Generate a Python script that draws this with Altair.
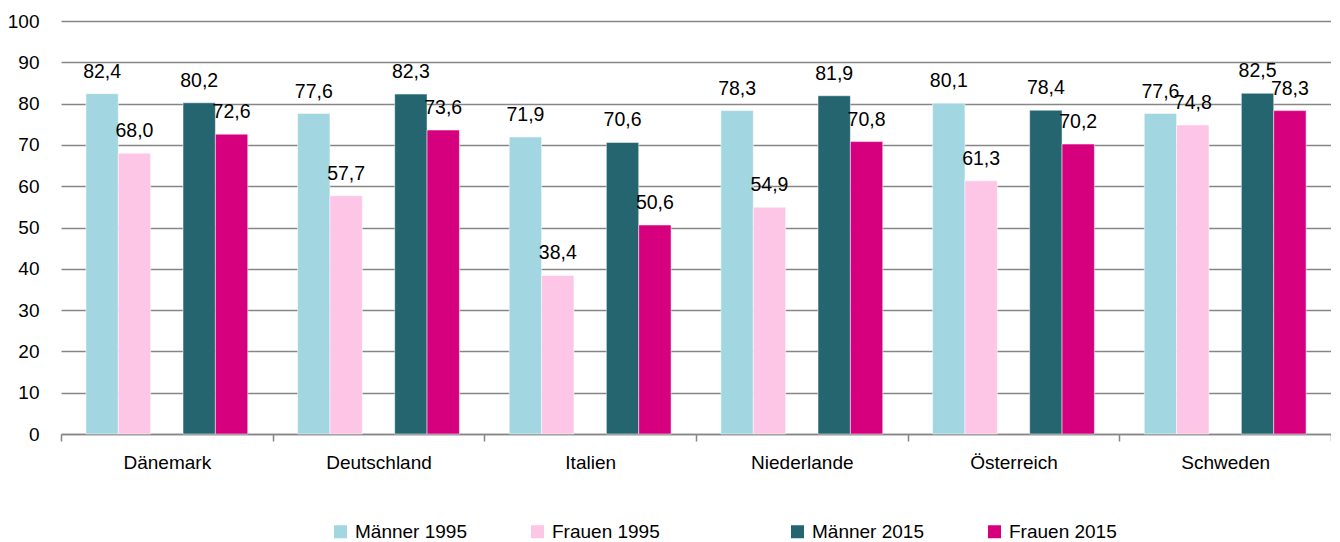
import altair as alt
import pandas as pd

countries = ["Dänemark", "Deutschland", "Italien", "Niederlande", "Österreich", "Schweden"]
slots = ["Männer 1995", "Frauen 1995", "", "Männer 2015", "Frauen 2015"]
series_1995 = ["Männer 1995", "Frauen 1995"]
series_2015 = ["Männer 2015", "Frauen 2015"]
colors_1995 = ["#a2d6e0", "#fdc5e6"]
colors_2015 = ["#24656f", "#d6007e"]

maenner_1995 = [82.4, 77.6, 71.9, 78.3, 80.1, 77.6]
frauen_1995 = [68.0, 57.7, 38.4, 54.9, 61.3, 74.8]
maenner_2015 = [80.2, 82.3, 70.6, 81.9, 78.4, 82.5]
frauen_2015 = [72.6, 73.6, 50.6, 70.8, 70.2, 78.3]

rows = []
for name, vals in [("Männer 1995", maenner_1995), ("Frauen 1995", frauen_1995),
                   ("Männer 2015", maenner_2015), ("Frauen 2015", frauen_2015)]:
    for c, v in zip(countries, vals):
        rows.append({"Land": c, "Serie": name, "Wert": v})
df = pd.DataFrame(rows)
df95 = df[df["Serie"].isin(series_1995)]
df15 = df[df["Serie"].isin(series_2015)]

FONT = "Liberation Sans, Arial, sans-serif"
FS = 19

x = alt.X("Land:N", sort=countries, title=None,
          scale=alt.Scale(paddingInner=0, paddingOuter=0),
          axis=alt.Axis(labelAngle=0, labelFontSize=FS, labelColor="#000000", labelPadding=12,
                        domainColor="#868686", domainWidth=1.5, tickColor="#868686",
                        tickWidth=1.5, tickSize=7, tickBand="extent", grid=False))
xo = alt.XOffset("Serie:N", scale=alt.Scale(domain=slots, paddingInner=0, paddingOuter=0.77))
y = alt.Y("Wert:Q", title=None,
          scale=alt.Scale(domain=[0, 100], nice=False),
          axis=alt.Axis(values=list(range(0, 101, 10)), domain=False, ticks=False,
                        labelFontSize=FS, labelColor="#000000", labelPadding=22,
                        gridColor="#868686", gridWidth=1.5))


def legend(lx):
    return alt.Legend(orient="none", direction="horizontal",
                      legendX=lx, legendY=501,
                      symbolType="square", symbolSize=169,
                      symbolStrokeWidth=0, labelFontSize=FS,
                      labelColor="#000000", labelOffset=5,
                      columnPadding=61, padding=0)


bars95 = alt.Chart(df95).mark_bar(stroke="white", strokeWidth=0.5).encode(
    x=x, xOffset=xo, y=y,
    color=alt.Color("Serie:N", title=None,
                    scale=alt.Scale(domain=series_1995, range=colors_1995),
                    legend=legend(270)),
)
bars15 = alt.Chart(df15).mark_bar(stroke="white", strokeWidth=0.5).encode(
    x=x, xOffset=xo, y=y,
    color=alt.Color("Serie:N", title=None,
                    scale=alt.Scale(domain=series_2015, range=colors_2015),
                    legend=legend(727)),
)

labels = alt.Chart(df).transform_calculate(
    Beschriftung="replace(format(datum.Wert, '.1f'), '.', ',')"
).mark_text(baseline="alphabetic", dy=-16, fontSize=FS + 0.5, color="#000000").encode(
    x=x, xOffset=xo, y=y, text="Beschriftung:N"
)

chart = alt.layer(bars95, bars15, labels).resolve_scale(color="independent").properties(
    width=1270, height=413,
    autosize=alt.AutoSizeParams(type="none"),
    padding={"left": 53, "top": 13, "right": 0, "bottom": 108},
).configure(font=FONT).configure_view(stroke=None)

chart.save("out.html", embed_options={"renderer": "svg", "actions": False})
